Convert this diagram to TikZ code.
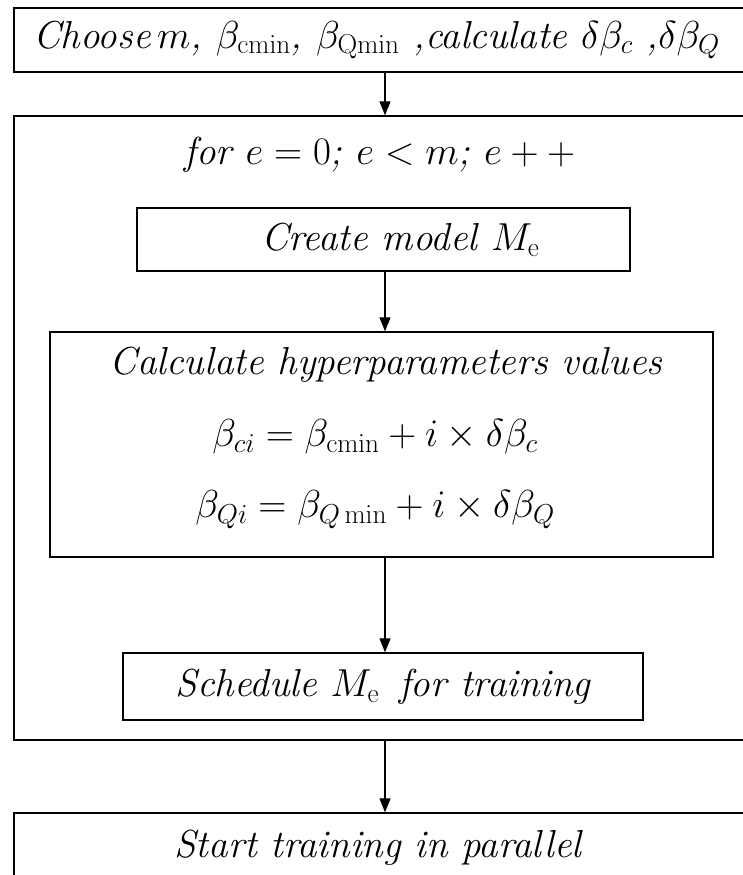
\RequirePackage{fix-cm}
\documentclass[tikz,border=0pt]{standalone}
\usetikzlibrary{arrows.meta}
\begin{document}
\begin{tikzpicture}[x=1pt,y=-1pt,
  box/.style={draw, line width=1.4pt, inner sep=0pt},
  lbl/.style={font=\fontsize{39}{44}\selectfont\itshape},
  arr/.style={line width=1.2pt, -{Triangle[length=14pt,width=11pt]}}]
\clip (0,0) rectangle (743,875);
\fill[white] (0,0) rectangle (743,875);
\coordinate (ax) at (385,0);
% boxes
\node[box, minimum width=790pt, minimum height=64pt] (top) at (409,40) {};
\node[lbl, anchor=west] (toptxt) at (30,40) {Choose\,$m$, $\beta_{\mathrm{cmin}}$, $\beta_{\mathrm{Qmin}}$ ,calculate $\delta\beta_c$ ,$\delta\beta_Q$};
\node[box, minimum width=790pt, minimum height=624pt] (outer) at (409,428) {};
\node[lbl] (fortxt) at (380,155) {for $e = 0$; $e < m$; $e + +$};
\node[box, lbl, minimum width=493pt, minimum height=63pt] (create) at (383.5,239.5) {\hspace{34pt}Create model $M_{\mathrm{e}}$};
\node[box, minimum width=663pt, minimum height=225pt] (calc) at (381.5,444.5) {};
\node[lbl] (calctxt) at (386,365) {Calculate hyperparameters values};
\node[lbl] (eqc) at (375,437) {$\beta_{ci} = \beta_{\mathrm{cmin}} + i\times\delta\beta_c$};
\node[lbl] (eqq) at (375,510) {$\beta_{Qi} = \beta_{Q\,\mathrm{min}} + i\times\delta\beta_Q$};
\node[box, lbl, minimum width=520pt, minimum height=67pt] (sched) at (383,686.5) {Schedule $M_{\mathrm{e}}$ \,for training};
\node[box, minimum width=790pt, minimum height=90pt] (bottom) at (409,858) {};
\node[lbl] (bottxt) at (378,848) {Start training in parallel};
% arrows
\draw[arr] (top.south -| ax) -- (outer.north -| ax);
\draw[arr] (create.south -| ax) -- (calc.north -| ax);
\draw[arr] (calc.south -| ax) -- (sched.north -| ax);
\draw[arr] (outer.south -| ax) -- (bottom.north -| ax);
\end{tikzpicture}
\end{document}
